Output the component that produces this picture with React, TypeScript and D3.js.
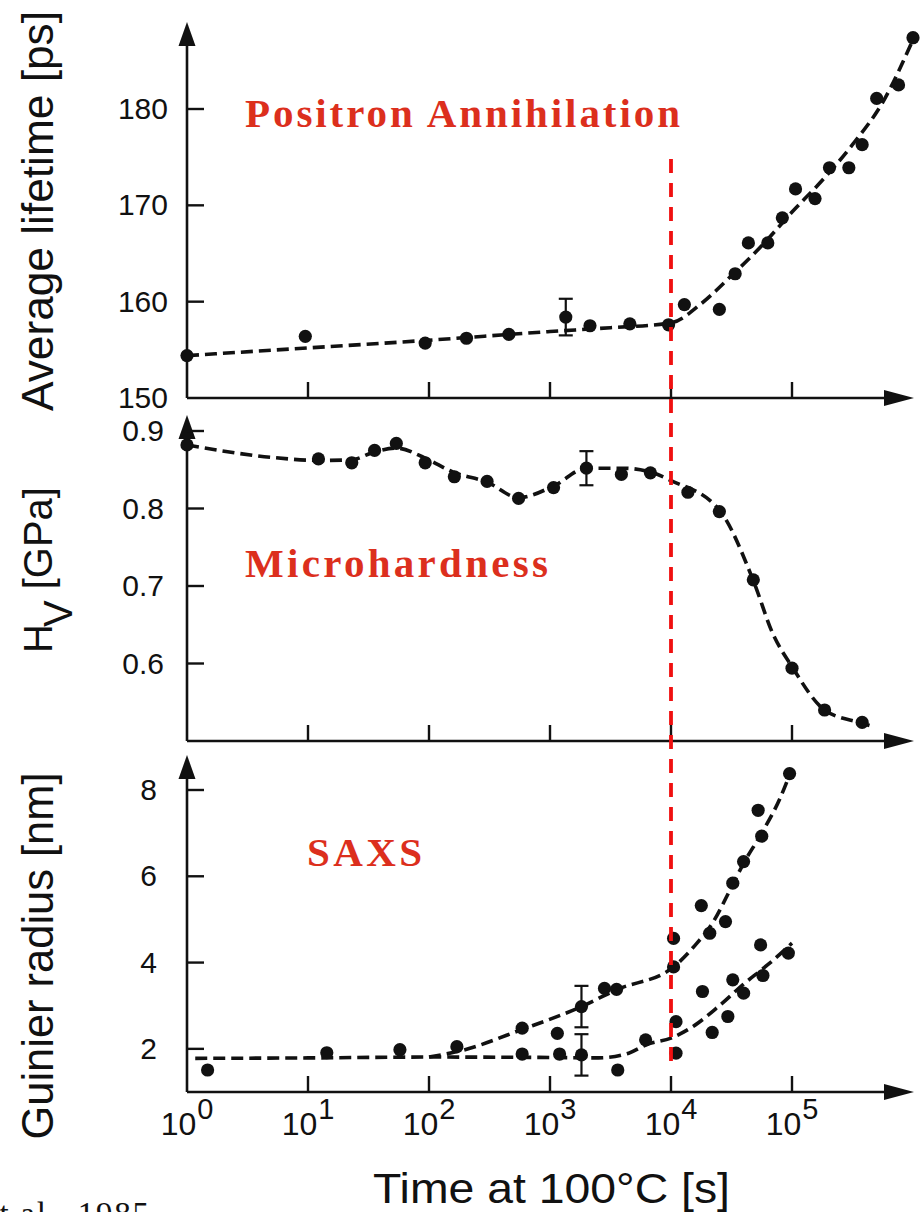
import React from "react";
import * as d3 from "d3";

// time [s] / value pairs
const lifetimeTime = [1, 9.5, 93, 204, 457, 1350, 2140, 4570, 9550, 12900, 25100, 33900, 43600, 63100, 83200, 107000, 155000, 204000, 295000, 380000, 501000, 759000, 1000000];
const lifetimeValue = [154.4, 156.4, 155.7, 156.2, 156.6, 158.4, 157.5, 157.7, 157.6, 159.7, 159.2, 162.9, 166.1, 166.1, 168.7, 171.7, 170.7, 173.9, 173.9, 176.3, 181.1, 182.5, 187.4];
const lifetimeFitTime = [1, 10, 100, 1000, 3160, 10000, 17800, 31600, 56200, 100000, 178000, 316000, 562000, 1000000];
const lifetimeFitValue = [154.4, 155.2, 156.0, 156.9, 157.3, 157.8, 159.8, 162.7, 165.8, 169.3, 172.6, 176.3, 180.7, 187.2];
const lifetimeErr = { t: 1350, v: 158.4, e: 1.9 };

const hardTime = [1, 12.2, 23, 35.5, 53.7, 93, 162, 302, 550, 1070, 2000, 3890, 6760, 13800, 25100, 47900, 100000, 186000, 380000];
const hardValue = [0.882, 0.864, 0.859, 0.875, 0.884, 0.859, 0.841, 0.835, 0.813, 0.827, 0.852, 0.844, 0.846, 0.821, 0.796, 0.708, 0.594, 0.54, 0.524];
const hardFitTime = [1, 5, 12.6, 23, 35.5, 53.7, 93, 158, 302, 550, 1070, 2000, 3980, 6760, 10000, 25100, 47900, 69200, 100000, 186000, 380000, 437000];
const hardFitValue = [0.882, 0.866, 0.862, 0.863, 0.873, 0.878, 0.865, 0.847, 0.834, 0.814, 0.829, 0.852, 0.852, 0.847, 0.836, 0.798, 0.707, 0.639, 0.596, 0.54, 0.523, 0.52];
const hardErr = { t: 2000, v: 0.852, e: 0.022 };

const saxsUpperTime = [14.3, 57.5, 170, 589, 1150, 1820, 2820, 3550, 10500, 10500, 17800, 20900, 28200, 32400, 39800, 52500, 56200, 95500];
const saxsUpperValue = [1.91, 1.98, 2.05, 2.48, 2.36, 2.98, 3.4, 3.38, 4.56, 3.9, 5.32, 4.68, 4.95, 5.84, 6.34, 7.53, 6.93, 8.38];
const saxsLowerTime = [1.48, 589, 1200, 1820, 3630, 6170, 11000, 11000, 18200, 21900, 29500, 32400, 39800, 55000, 57500, 93300];
const saxsLowerValue = [1.51, 1.88, 1.88, 1.86, 1.51, 2.21, 2.63, 1.9, 3.33, 2.38, 2.75, 3.6, 3.29, 4.41, 3.7, 4.22];
const saxsUpperFitTime = [100, 180, 589, 1820, 3550, 10500, 15800, 22400, 31600, 39800, 56200, 79400, 100000];
const saxsUpperFitValue = [1.81, 1.95, 2.45, 2.98, 3.37, 3.9, 4.4, 4.95, 5.75, 6.3, 7.0, 7.8, 8.5];
const saxsLowerFitTime = [1.17, 10, 100, 1000, 2510, 4470, 6310, 10000, 15800, 25100, 39800, 63100, 100000];
const saxsLowerFitValue = [1.78, 1.79, 1.81, 1.8, 1.79, 1.9, 2.1, 2.25, 2.55, 3.0, 3.5, 3.95, 4.45];
const saxsErr = [
  { t: 1820, v: 2.98, e: 0.48 },
  { t: 1820, v: 1.86, e: 0.48 },
];

const decades = [1, 10, 100, 1000, 10000, 100000];
const decadeExp = ["0", "1", "2", "3", "4", "5"];
const lifetimeTicks = [150, 160, 170, 180];
const hardTicks = [0.6, 0.7, 0.8, 0.9];
const saxsTicks = [2, 4, 6, 8];

const RED = "#dc2f1d";
const INK = "#111";

const x = d3.scaleLog().domain([1, 1e6]).range([187, 913]);
const yTop = d3.scaleLinear().domain([150, 180]).range([398, 109]);
const yMid = d3.scaleLinear().domain([0.5, 0.9]).range([741, 431]);
const yBot = d3.scaleLinear().domain([1, 8]).range([1092, 790]);

const zip = (ts: number[], vs: number[]) => ts.map((t, i) => [t, vs[i]] as [number, number]);

const Panel = ({ y, top, ticks, labelX, fmt, dots, fits, errs }: any) => {
  const x0 = x(1);
  const yAxis = y.range()[0];
  const line = d3
    .line<[number, number]>()
    .x((d) => x(d[0]))
    .y((d) => y(d[1]))
    .curve(d3.curveMonotoneX);
  return (
    <g>
      {/* axes */}
      <line x1={x0} x2={x0} y1={yAxis} y2={top + 20} stroke={INK} strokeWidth={2.6} />
      <path d={`M${x0},${top} L${x0 - 8.5},${top + 24} L${x0 + 8.5},${top + 24} Z`} fill={INK} />
      <line x1={x0} x2={888} y1={yAxis} y2={yAxis} stroke={INK} strokeWidth={2.6} />
      <path d={`M914,${yAxis} L884,${yAxis - 8} L884,${yAxis + 8} Z`} fill={INK} />
      {decades.slice(1).map((t) => (
        <line key={t} x1={x(t)} x2={x(t)} y1={yAxis} y2={yAxis - 16} stroke={INK} strokeWidth={2.4} />
      ))}
      {ticks.map((v: number) => (
        <g key={v}>
          {y(v) < yAxis - 1 && (
            <line x1={x0} x2={x0 + 17} y1={y(v)} y2={y(v)} stroke={INK} strokeWidth={2.4} />
          )}
          <text x={labelX} y={y(v) + 10} textAnchor="end" fontSize={30} fontFamily="Liberation Sans, Arial, sans-serif" fill={INK}>
            {fmt(v)}
          </text>
        </g>
      ))}
      {/* fits */}
      {fits.map((f: [number, number][], i: number) => (
        <path key={i} d={line(f) || ""} fill="none" stroke={INK} strokeWidth={3.6} strokeDasharray="12 6" />
      ))}
      {/* error bars */}
      {errs.map((e: any, i: number) => (
        <g key={i} stroke={INK} strokeWidth={2.2}>
          <line x1={x(e.t)} x2={x(e.t)} y1={y(e.v - e.e)} y2={y(e.v + e.e)} />
          <line x1={x(e.t) - 7} x2={x(e.t) + 7} y1={y(e.v - e.e)} y2={y(e.v - e.e)} />
          <line x1={x(e.t) - 7} x2={x(e.t) + 7} y1={y(e.v + e.e)} y2={y(e.v + e.e)} />
        </g>
      ))}
      {/* data */}
      {dots.map((d: [number, number], i: number) => (
        <circle key={i} cx={x(d[0])} cy={y(d[1])} r={6.6} fill={INK} />
      ))}
    </g>
  );
};

export default function App() {
  const titleFont = "Liberation Serif, Times New Roman, serif";
  const sans = "Liberation Sans, Arial, sans-serif";
  return (
    <svg
      width={921}
      height={1212}
      viewBox="0 0 921 1212"
      style={{ position: "absolute", left: 0, top: 0, display: "block", background: "#fff" }}
    >
      <rect width={921} height={1212} fill="#fff" />
      <Panel
        y={yTop}
        top={22}
        ticks={lifetimeTicks}
        labelX={168}
        fmt={(v: number) => String(v)}
        dots={zip(lifetimeTime, lifetimeValue)}
        fits={[zip(lifetimeFitTime, lifetimeFitValue)]}
        errs={[lifetimeErr]}
      />
      <Panel
        y={yMid}
        top={415}
        ticks={hardTicks}
        labelX={164}
        fmt={(v: number) => v.toFixed(1)}
        dots={zip(hardTime, hardValue)}
        fits={[zip(hardFitTime, hardFitValue)]}
        errs={[hardErr]}
      />
      <Panel
        y={yBot}
        top={755}
        ticks={saxsTicks}
        labelX={157}
        fmt={(v: number) => String(v)}
        dots={[...zip(saxsUpperTime, saxsUpperValue), ...zip(saxsLowerTime, saxsLowerValue)]}
        fits={[zip(saxsLowerFitTime, saxsLowerFitValue), zip(saxsUpperFitTime, saxsUpperFitValue)]}
        errs={saxsErr}
      />

      {/* red marker at 10^4 s */}
      <line x1={x(1e4)} x2={x(1e4)} y1={159} y2={1062} stroke="#f01010" strokeWidth={3.8} strokeDasharray="14 10" />

      {/* x tick labels */}
      {decades.map((t, i) => (
        <text key={t} x={x(t)} y={1135} textAnchor="middle" fontFamily={sans} fill={INK}>
          <tspan fontSize={32}>10</tspan>
          <tspan fontSize={29} dy={-16} dx={1}>{decadeExp[i]}</tspan>
        </text>
      ))}

      {/* titles */}
      <text x={245} y={127} fontFamily={titleFont} fontWeight="bold" fontSize={41} fill={RED} textLength={435} lengthAdjust="spacing">
        Positron Annihilation
      </text>
      <text x={245} y={577} fontFamily={titleFont} fontWeight="bold" fontSize={41} fill={RED} textLength={303} lengthAdjust="spacing">
        Microhardness
      </text>
      <text x={307} y={866} fontFamily={titleFont} fontWeight="bold" fontSize={41} fill={RED} textLength={115} lengthAdjust="spacing">
        SAXS
      </text>

      {/* axis titles */}
      <text transform="translate(53,211) rotate(-90)" textAnchor="middle" fontFamily={sans} fontSize={44} fill={INK} textLength={400} lengthAdjust="spacingAndGlyphs">
        Average lifetime [ps]
      </text>
      <text transform="translate(52,653) rotate(-90)" fontFamily={sans} fontSize={40} fill={INK}>
        H
        <tspan dy={20} dx={-3}>V</tspan>
        <tspan dy={-20}> [GPa]</tspan>
      </text>
      <text transform="translate(53,956) rotate(-90)" textAnchor="middle" fontFamily={sans} fontSize={44} fill={INK} textLength={367} lengthAdjust="spacingAndGlyphs">
        Guinier radius [nm]
      </text>
      <text x={373} y={1203} fontFamily={sans} fontSize={42} fill={INK} textLength={357} lengthAdjust="spacingAndGlyphs">
        Time at 100°C [s]
      </text>

      {/* citation, cropped at the bottom edge as in the source */}
      <text x={-17} y={1225} fontFamily={titleFont} fontSize={33} fill={INK} textLength={166} lengthAdjust="spacing">
        et al., 1985
      </text>
    </svg>
  );
}
